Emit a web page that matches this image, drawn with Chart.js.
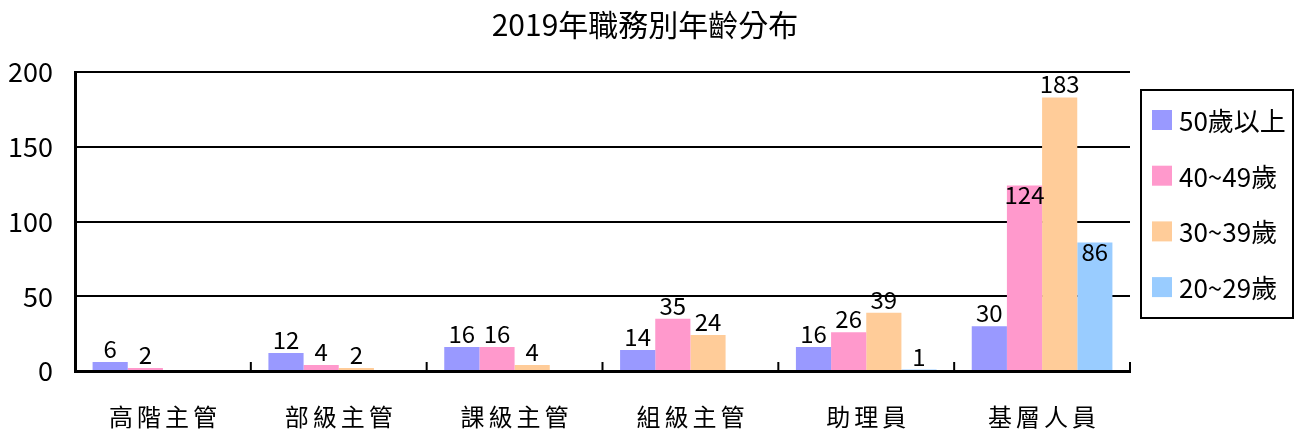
<!DOCTYPE html>
<html>
<head>
<meta charset="utf-8">
<script src="https://cdn.jsdelivr.net/npm/chart.js@4/dist/chart.umd.min.js"></script>
<style>
html,body{margin:0;padding:0;background:#fff;}
#wrap{width:1299px;height:434px;position:relative;}
</style>
</head>
<body>
<div id="wrap"><canvas id="c" width="1299" height="434"></canvas></div>
<script>
const title = '2019年職務別年齡分布';
const categories = ['高階主管', '部級主管', '課級主管', '組級主管', '助理員', '基層人員'];
const seriesNames = ['50歲以上', '40~49歲', '30~39歲', '20~29歲'];
const age50plus = [6, 12, 16, 14, 16, 30];
const age40to49 = [2, 4, 16, 35, 26, 124];
const age30to39 = [0, 2, 4, 24, 39, 183];
const age20to29 = [0, 0, 0, 0, 1, 86];
const yTicks = [0, 50, 100, 150, 200];

const colors = ['#9999FF', '#FF99CC', '#FFCC99', '#99CCFF'];
const FONT = "'Noto Sans CJK TC', 'Noto Sans', sans-serif";
// labels placed inside the bar end (dataset index:category index)
const insideLabels = new Set(['1:5', '3:5']);

const seriesValues = [age50plus, age40to49, age30to39, age20to29];

const decor = {
  id: 'decor',
  afterDatasetsDraw(chart) {
    const ctx = chart.ctx;
    ctx.save();
    ctx.fillStyle = '#000';
    ctx.font = '24px ' + FONT;
    ctx.textAlign = 'center';
    chart.data.datasets.forEach((ds, di) => {
      const meta = chart.getDatasetMeta(di);
      meta.data.forEach((el, i) => {
        const v = ds.data[i];
        if (!v) return;
        if (insideLabels.has(di + ':' + i)) {
          ctx.textBaseline = 'top';
          ctx.fillText(String(v), el.x, el.y - 3);
        } else {
          ctx.textBaseline = 'alphabetic';
          ctx.fillText(String(v), el.x, el.y - 4);
        }
      });
    });
    ctx.restore();
  },
  afterDraw(chart) {
    const ctx = chart.ctx;
    const xs = chart.scales.x;
    const ca = chart.chartArea;
    ctx.save();
    ctx.strokeStyle = '#000';
    ctx.lineWidth = 2;
    const n = categories.length;
    const step = (xs.getPixelForValue(1) - xs.getPixelForValue(0));
    for (let i = 1; i <= n; i++) {
      const x = xs.getPixelForValue(i) - step / 2;
      ctx.beginPath();
      ctx.moveTo(x, ca.bottom);
      ctx.lineTo(x, ca.bottom - 9);
      ctx.stroke();
    }
    ctx.fillStyle = '#000';
    ctx.font = '24px ' + FONT;
    ctx.textBaseline = 'middle';
    ctx.textAlign = 'center';
    const ls = 4;
    try { ctx.letterSpacing = ls + 'px'; } catch (e) {}
    categories.forEach((c, i) => {
      ctx.fillText(c, xs.getPixelForValue(i) + ls / 2, 417);
    });
    try { ctx.letterSpacing = '0px'; } catch (e) {}
    ctx.font = '30px ' + FONT;
    ctx.fillText(title, 645, 25);
    const lx = 1141, ly = 90, lw = 152, lh = 228;
    ctx.lineWidth = 2;
    ctx.strokeRect(lx, ly, lw, lh);
    ctx.font = '26px ' + FONT;
    ctx.textAlign = 'left';
    chart.data.datasets.forEach((ds, di) => {
      const cy = 120 + di * 55.7;
      ctx.fillStyle = ds.backgroundColor;
      ctx.fillRect(1152, cy - 10, 20, 20);
      ctx.fillStyle = '#000';
      ctx.fillText(ds.label, 1179, cy + 1);
    });
    ctx.restore();
  }
};

new Chart(document.getElementById('c'), {
  type: 'bar',
  data: {
    labels: categories,
    datasets: seriesNames.map((name, i) => ({
      label: name,
      data: seriesValues[i],
      backgroundColor: colors[i],
      borderWidth: 0,
      categoryPercentage: 0.8,
      barPercentage: 1.0
    }))
  },
  options: {
    responsive: false,
    animation: false,
    devicePixelRatio: 1,
    layout: { padding: { top: 72, right: 169, left: 0, bottom: 0 } },
    plugins: { legend: { display: false }, title: { display: false }, tooltip: { enabled: false } },
    scales: {
      x: {
        grid: { display: false, drawTicks: false },
        border: { display: true, color: '#000', width: 3 },
        ticks: { display: false },
        afterFit(s) { s.height = 63; }
      },
      y: {
        min: 0, max: 200,
        afterBuildTicks(s) { s.ticks = yTicks.map(v => ({ value: v })); },
        grid: { color: '#000', lineWidth: 2, drawTicks: false },
        border: { display: true, color: '#000', width: 3 },
        ticks: { color: '#000', font: { family: FONT, size: 27 }, padding: 22 },
        afterFit(s) { s.width = 75; }
      }
    }
  },
  plugins: [decor]
});
</script>
</body>
</html>
